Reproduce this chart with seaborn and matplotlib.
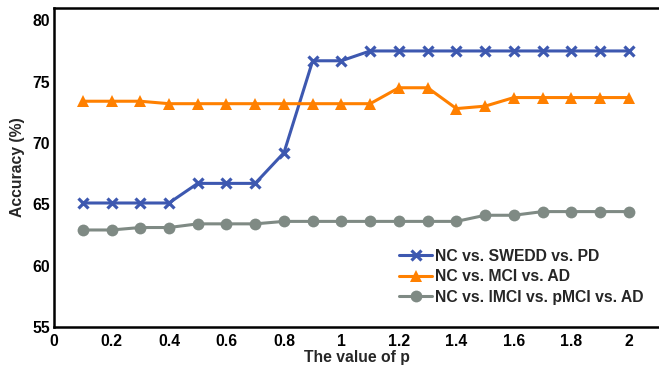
import matplotlib
matplotlib.use("Agg")
import matplotlib.pyplot as plt
import seaborn as sns

p_values = [0.1, 0.2, 0.3, 0.4, 0.5, 0.6, 0.7, 0.8, 0.9, 1.0,
            1.1, 1.2, 1.3, 1.4, 1.5, 1.6, 1.7, 1.8, 1.9, 2.0]
swedd = [65.1, 65.1, 65.1, 65.1, 66.7, 66.7, 66.7, 69.2, 76.7, 76.7,
         77.5, 77.5, 77.5, 77.5, 77.5, 77.5, 77.5, 77.5, 77.5, 77.5]
mci = [73.4, 73.4, 73.4, 73.2, 73.2, 73.2, 73.2, 73.2, 73.2, 73.2,
       73.2, 74.5, 74.5, 72.8, 73.0, 73.7, 73.7, 73.7, 73.7, 73.7]
pmci = [62.9, 62.9, 63.1, 63.1, 63.4, 63.4, 63.4, 63.6, 63.6, 63.6,
        63.6, 63.6, 63.6, 63.6, 64.1, 64.1, 64.4, 64.4, 64.4, 64.4]
labels = ["NC vs. SWEDD vs. PD", "NC vs. MCI vs. AD", "NC vs. lMCI vs. pMCI vs. AD"]
colors = ["#3d58b0", "#ff8000", "#7f8a84"]

sns.set_style("white")
plt.rcParams["font.family"] = ["Liberation Sans", "DejaVu Sans"]
plt.rcParams["font.weight"] = "bold"

fig, ax = plt.subplots(figsize=(6.59, 3.66), dpi=100)
fig.subplots_adjust(left=0.082, right=1.0, top=0.978, bottom=0.107)

sns.lineplot(x=p_values, y=swedd, color=colors[0], marker="x", markersize=6.5,
             markeredgewidth=2.3, markeredgecolor=colors[0], linewidth=2.2,
             label=labels[0], ax=ax)
sns.lineplot(x=p_values, y=mci, color=colors[1], marker="^", markersize=9,
             markeredgewidth=0, linewidth=2.2, label=labels[1], ax=ax)
sns.lineplot(x=p_values, y=pmci, color=colors[2], marker="o", markersize=8.5,
             markeredgewidth=0, linewidth=2.2, label=labels[2], ax=ax)

ax.set_xlim(0, 2.105)
ax.set_ylim(55, 81)
ax.set_xticks([0, 0.2, 0.4, 0.6, 0.8, 1, 1.2, 1.4, 1.6, 1.8, 2])
ax.set_xticklabels(["0", "0.2", "0.4", "0.6", "0.8", "1", "1.2", "1.4", "1.6", "1.8", "2"])
ax.set_yticks([55, 60, 65, 70, 75, 80])
ax.tick_params(direction="in", length=4, width=1, labelsize=11.3, colors="black")
ax.tick_params(axis="x", pad=5)
ax.tick_params(axis="y", pad=3)
for t in ax.get_xticklabels() + ax.get_yticklabels():
    t.set_fontweight("bold")
ax.set_xlabel("The value of p", fontsize=11.3, fontweight="bold", labelpad=1)
ax.set_ylabel("Accuracy (%)", fontsize=11.3, fontweight="bold", labelpad=5)
for s in ["left", "bottom", "top"]:
    ax.spines[s].set_linewidth(1.8)
    ax.spines[s].set_color("black")
ax.spines["right"].set_visible(False)

leg = ax.legend(loc="lower right", bbox_to_anchor=(0.998, 0.025), frameon=False,
                handlelength=2.1, handletextpad=0.2, labelspacing=0.35,
                prop={"weight": "bold", "size": 11.3})

fig.savefig("out.png", dpi=100)
